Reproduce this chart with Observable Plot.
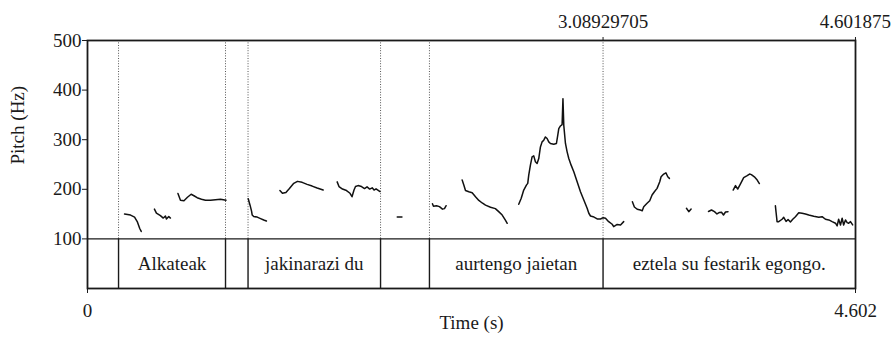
<!DOCTYPE html>
<html>
<head>
<meta charset="utf-8">
<script src="https://cdn.jsdelivr.net/npm/d3@7"></script>
<script src="https://cdn.jsdelivr.net/npm/@observablehq/plot@0.6"></script>
<style>
  html, body { margin: 0; padding: 0; background: #fff; }
  #chart svg { display: block; }
</style>
</head>
<body>
<div id="chart"></div>
<script>
// Pitch contour pieces: [time (s), pitch (Hz)]
const contour01 = [[0.222,150],[0.258,148],[0.282,144],[0.298,135],[0.313,121],[0.322,115]];
const contour02 = [[0.401,160],[0.413,152],[0.437,147],[0.454,142],[0.467,146],[0.473,140],[0.487,145],[0.497,142]];
const contour03 = [[0.542,191.5],[0.557,178],[0.578,177],[0.599,184],[0.621,190],[0.638,187],[0.657,183],[0.683,180],[0.707,178],[0.737,178],[0.767,179],[0.797,180],[0.830,178]];
const contour04 = [[0.963,181],[0.974,168],[0.983,156],[0.987,148],[0.996,145],[1.017,144],[1.037,141],[1.056,138],[1.072,136]];
const contour05 = [[1.153,197.5],[1.168,192],[1.189,193.5],[1.210,201.5],[1.236,212],[1.258,216],[1.286,214],[1.316,210],[1.346,206.5],[1.376,202.5],[1.412,198.5]];
const contour06 = [[1.496,215],[1.507,205.5],[1.528,200.5],[1.552,197.5],[1.573,192],[1.585,185],[1.597,198.5],[1.606,205.5],[1.621,207.5],[1.642,205.5],[1.660,201.5],[1.675,205],[1.691,200.5],[1.706,203],[1.717,198.5],[1.729,201],[1.753,195.5]];
const contour07 = [[1.856,144],[1.884,144]];
const contour08 = [[2.067,171],[2.073,166],[2.091,167],[2.109,165],[2.127,160],[2.139,161],[2.149,167]];
const contour09 = [[2.245,218.6],[2.255,208.5],[2.265,197.5],[2.285,195],[2.305,193],[2.325,185],[2.345,177.5],[2.365,172.4],[2.385,168],[2.415,163.7],[2.444,161],[2.464,155],[2.485,148],[2.504,138],[2.515,131.5]];
const contour10 = [[2.584,169.7],[2.599,181.8],[2.614,198.5],[2.630,208.5],[2.638,212],[2.644,228.6],[2.654,248.7],[2.664,265.4],[2.674,267.4],[2.684,255.4],[2.694,252],[2.704,262],[2.714,285.5],[2.724,295.6],[2.734,299],[2.744,305.6],[2.754,302.4],[2.764,295.6],[2.774,292.4],[2.794,291],[2.810,292.4],[2.818,309],[2.824,322.5],[2.834,327.7],[2.844,330.5],[2.849,382.8],[2.854,329],[2.864,292.4],[2.874,275.5],[2.884,262],[2.898,248.7],[2.914,235.3],[2.934,215.2],[2.954,195],[2.974,178.4],[2.994,161.7],[3.004,151.7],[3.014,146.2],[3.030,144.8],[3.054,140.2],[3.074,140.2],[3.090,142.8],[3.104,141.6],[3.123,134.8],[3.144,129.5],[3.153,124.7],[3.174,129.1],[3.194,128.1],[3.213,134.8]];
const contour11 = [[3.265,175],[3.277,164.3],[3.294,159.7],[3.313,158.3],[3.324,156.9],[3.333,164.9],[3.353,171.8],[3.369,177],[3.383,188.4],[3.397,195],[3.413,201.9],[3.429,215.2],[3.437,225.2],[3.453,230.7],[3.466,233.3],[3.477,225.2],[3.487,222]];
const contour12 = [[3.589,161.7],[3.603,154.9],[3.617,160.3]];
const contour13 = [[3.721,155.3],[3.739,158.3],[3.757,154.9],[3.772,150.3],[3.787,153.3],[3.799,153.7],[3.811,148.2],[3.823,154.3],[3.838,154.9]];
const contour14 = [[3.869,198.5],[3.883,207.5],[3.896,200.5],[3.912,210.6],[3.932,223.6],[3.953,227.6],[3.967,230.7],[3.978,229.6],[3.996,225.2],[4.013,218.6],[4.026,211.6]];
const contour15 = [[4.122,166.7],[4.126,153.7],[4.132,134.8],[4.142,134.8],[4.162,139.6],[4.172,143.6],[4.186,135.2],[4.198,139.2],[4.212,134.2],[4.226,139.6],[4.242,144.8],[4.262,152.7],[4.282,151.7],[4.302,150.3],[4.322,148.2],[4.352,145.6],[4.382,143.6],[4.402,144.8],[4.422,139.6],[4.442,138.2],[4.462,134.8],[4.482,131.6],[4.492,126.1],[4.501,139.6],[4.512,128.1],[4.522,141.6],[4.531,128.1],[4.542,138.2],[4.552,132.8],[4.561,131.6],[4.572,134.8],[4.585,128.1]];

// Text tier
const boundaries = [0.186, 0.827, 0.962, 1.756, 2.049, 3.08929705];
const tierStarts = [0, 0.186, 0.827, 0.962, 1.756, 2.049, 3.08929705];
const tierEnds   = [0.186, 0.827, 0.962, 1.756, 2.049, 3.08929705, 4.601875];
const tierLabels = ["", "Alkateak", "", "jakinarazi du", "", "aurtengo jaietan", "eztela su festarik egongo."];

// Axis ticks
const yTicks = [100, 200, 300, 400, 500];
const xBottomTicks = [0, 4.602];
const xBottomLabels = ["0", "4.602"];
const xTopTicks = [3.08929705, 4.601875];
const xTopLabels = ["3.08929705", "4.601875"];
const tierFloor = 0, tierCeil = 100, pitchMax = 500, tMax = 4.602;

const contours = [contour01, contour02, contour03, contour04, contour05, contour06, contour07, contour08,
                  contour09, contour10, contour11, contour12, contour13, contour14, contour15];
const pitch = contours.flatMap((c, i) => c.map(([t, f]) => ({seg: i, t, f})));
const intervals = tierLabels.map((label, i) => ({x1: tierStarts[i], x2: tierEnds[i], mid: (tierStarts[i] + tierEnds[i]) / 2, label}));

const font = "Liberation Serif";
const ink = "#1a1a1a";
const fs = 19;

const chart = Plot.plot({
  width: 896,
  height: 341,
  marginLeft: 87,
  marginRight: 41,
  marginTop: 40,
  marginBottom: 53,
  style: {fontFamily: font, fontSize: "19px", color: ink, background: "#fff"},
  x: {domain: [0, tMax], axis: null},
  y: {domain: [tierFloor, pitchMax], axis: null},
  marks: [
    Plot.ruleX(boundaries, {y1: tierCeil, y2: pitchMax, stroke: "#555", strokeWidth: 1, strokeDasharray: "1,1.6"}),
    Plot.ruleX(boundaries, {y1: tierFloor, y2: tierCeil, stroke: ink, strokeWidth: 1.4}),
    Plot.ruleY([tierCeil], {stroke: ink, strokeWidth: 1.4}),
    Plot.text(intervals.filter(d => d.label), {x: "mid", y: 50, text: "label", fontSize: fs, fontFamily: font, fill: ink}),
    Plot.line(pitch, {x: "t", y: "f", z: "seg", stroke: "#111", strokeWidth: 1.5, curve: "linear"}),
    Plot.frame({stroke: ink, strokeWidth: 1.8}),
    Plot.axisY({ticks: yTicks, tickSize: 5, tickPadding: 1, tickFormat: d => String(d), label: null, fontSize: fs, fontFamily: font, stroke: ink}),
    Plot.axisX({anchor: "bottom", ticks: xBottomTicks, tickSize: 5, tickPadding: 10, tickFormat: (d, i) => xBottomLabels[i], label: null, fontSize: fs, fontFamily: font, stroke: ink}),
    Plot.axisX({anchor: "top", ticks: xTopTicks, tickSize: 4, tickPadding: 9, tickFormat: (d, i) => xTopLabels[i], label: null, fontSize: fs, fontFamily: font, stroke: ink}),
    Plot.text(["Pitch (Hz)"], {frameAnchor: "left", rotate: -90, dx: -70, fontSize: fs, fontFamily: font, fill: ink}),
    Plot.text(["Time (s)"], {frameAnchor: "bottom", dy: 40, fontSize: fs, fontFamily: font, fill: ink})
  ]
});
document.getElementById("chart").appendChild(chart);
</script>
</body>
</html>
